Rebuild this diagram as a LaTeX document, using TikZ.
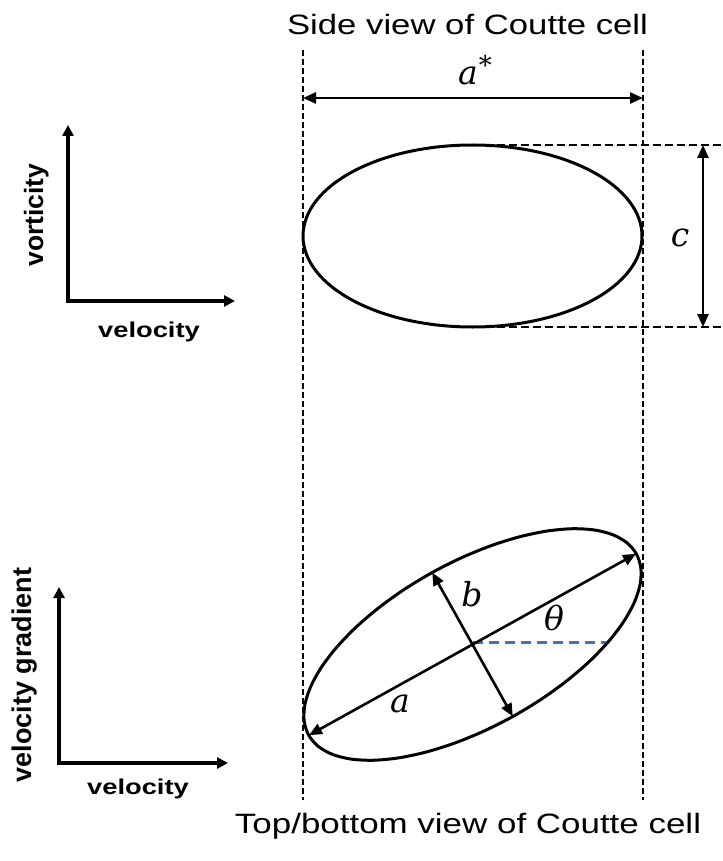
\RequirePackage{fix-cm}
\documentclass[tikz,border=0pt]{standalone}
\usepackage{graphicx}
\usepackage{fontspec}
\setmainfont{Liberation Sans}
\newfontfamily\letterfont{DejaVu Serif}
\usetikzlibrary{arrows.meta}
\definecolor{dashblue}{HTML}{4472C4}
\begin{document}
\begin{tikzpicture}[x=1pt,y=-1pt,
  axis/.style={line width=3.2pt,line join=miter,{Triangle[length=11pt,width=11pt]}-{Triangle[length=11pt,width=11pt]}},
  dim/.style={line width=2.6pt,{Triangle[length=13pt,width=11pt]}-{Triangle[length=13pt,width=11pt]}},
  vguide/.style={line width=2.5pt,dash pattern=on 6pt off 3pt},
  hguide/.style={line width=2.3pt,dash pattern=on 8pt off 4pt},
  blueguide/.style={line width=2.5pt,dashblue,dash pattern=on 10pt off 6pt},
  outline/.style={line width=3pt},
  axlab/.style={inner sep=0pt,anchor=base,font=\fontsize{21.5}{24}\selectfont\bfseries},
  vlab/.style={inner sep=0pt,anchor=base,rotate=90,font=\fontsize{27}{30}\selectfont\bfseries},
  title/.style={inner sep=0pt,anchor=base,font=\fontsize{28}{32}\selectfont},
  mlab/.style={inner sep=0pt,font=\fontsize{33}{36}\selectfont\letterfont\itshape}]
\useasboundingbox (0,0) rectangle (722,861);

% titles
\node[title] (ttop) at (467.5,35) {\scalebox{1.24}[1]{Side view of Coutte cell}};
\node[title] (tbot) at (468,833) {\scalebox{1.248}[1]{Top/bottom view of Coutte cell}};

% top axes
\coordinate (o1) at (68,301);
\coordinate (y1) at (68,125);
\coordinate (x1) at (235,301);
\draw[axis] (y1) -- (o1) -- (x1);
\node[vlab,font=\fontsize{26.5}{30}\selectfont\bfseries] (vort) at (43,215) {vorticity};
\node[axlab] (vel1) at (149,337) {\scalebox{1.27}[1]{velocity}};

% bottom axes
\coordinate (o2) at (59,763);
\coordinate (y2) at (59,587);
\coordinate (x2) at (228,763);
\draw[axis] (y2) -- (o2) -- (x2);
\node[vlab] (velgrad) at (31,675) {velocity gradient};
\node[axlab] (vel2) at (138,794) {\scalebox{1.27}[1]{velocity}};

% vertical guide lines
\coordinate (gl1) at (303,50);
\coordinate (gl2) at (303,800);
\coordinate (gr1) at (643,50);
\coordinate (gr2) at (643,800);
\draw[vguide] (gl1) -- (gl2);
\draw[vguide] (gr1) -- (gr2);

% a* dimension
\coordinate (as) at (303,98);
\coordinate (ae) at (643,98);
\draw[dim] (as) -- (ae);
\node[mlab,anchor=base] (astar) at (475,85) {a\kern1pt\raisebox{10pt}{\fontsize{26}{26}\selectfont\upshape *}};

% top ellipse
\coordinate (e1) at (472.5,236);
\coordinate (top1) at (472.5,145);
\coordinate (bot1) at (472.5,327);
\coordinate (top1e) at (722,145);
\coordinate (bot1e) at (722,327);
\draw[hguide] (top1) -- (top1e);
\draw[hguide] (bot1) -- (bot1e);
\draw[outline,fill=white] (e1) ellipse [x radius=169.5, y radius=91];
\coordinate (cs) at (703,145);
\coordinate (ce) at (703,327);
\draw[dim] (cs) -- (ce);
\node[mlab] (clab) at (680,238) {c};

% bottom (tilted) ellipse
\coordinate (e2) at (472.5,644.5);
\coordinate (majA) at (309,735.2);
\coordinate (majB) at (636,553.8);
\coordinate (minA) at (432.2,572.5);
\coordinate (minB) at (512.8,716.5);
\coordinate (bl1) at (473,642.5);
\coordinate (bl2) at (606,642.5);
\draw[blueguide] (bl1) -- (bl2);
\draw[outline] plot[smooth cycle, domain=0:350, samples=36, variable=\t]
  ({472.5+163.8*cos(\t)-40.3*sin(\t)},{644.5-90.7*cos(\t)-72*sin(\t)});
\draw[dim] (majA) -- (majB);
\draw[dim] (minA) -- (minB);
\node[mlab] (blab) at (472,594) {b};
\node[mlab] (thlab) at (554,618) {θ};
\node[mlab] (alab) at (400,704) {a};
\end{tikzpicture}
\end{document}
